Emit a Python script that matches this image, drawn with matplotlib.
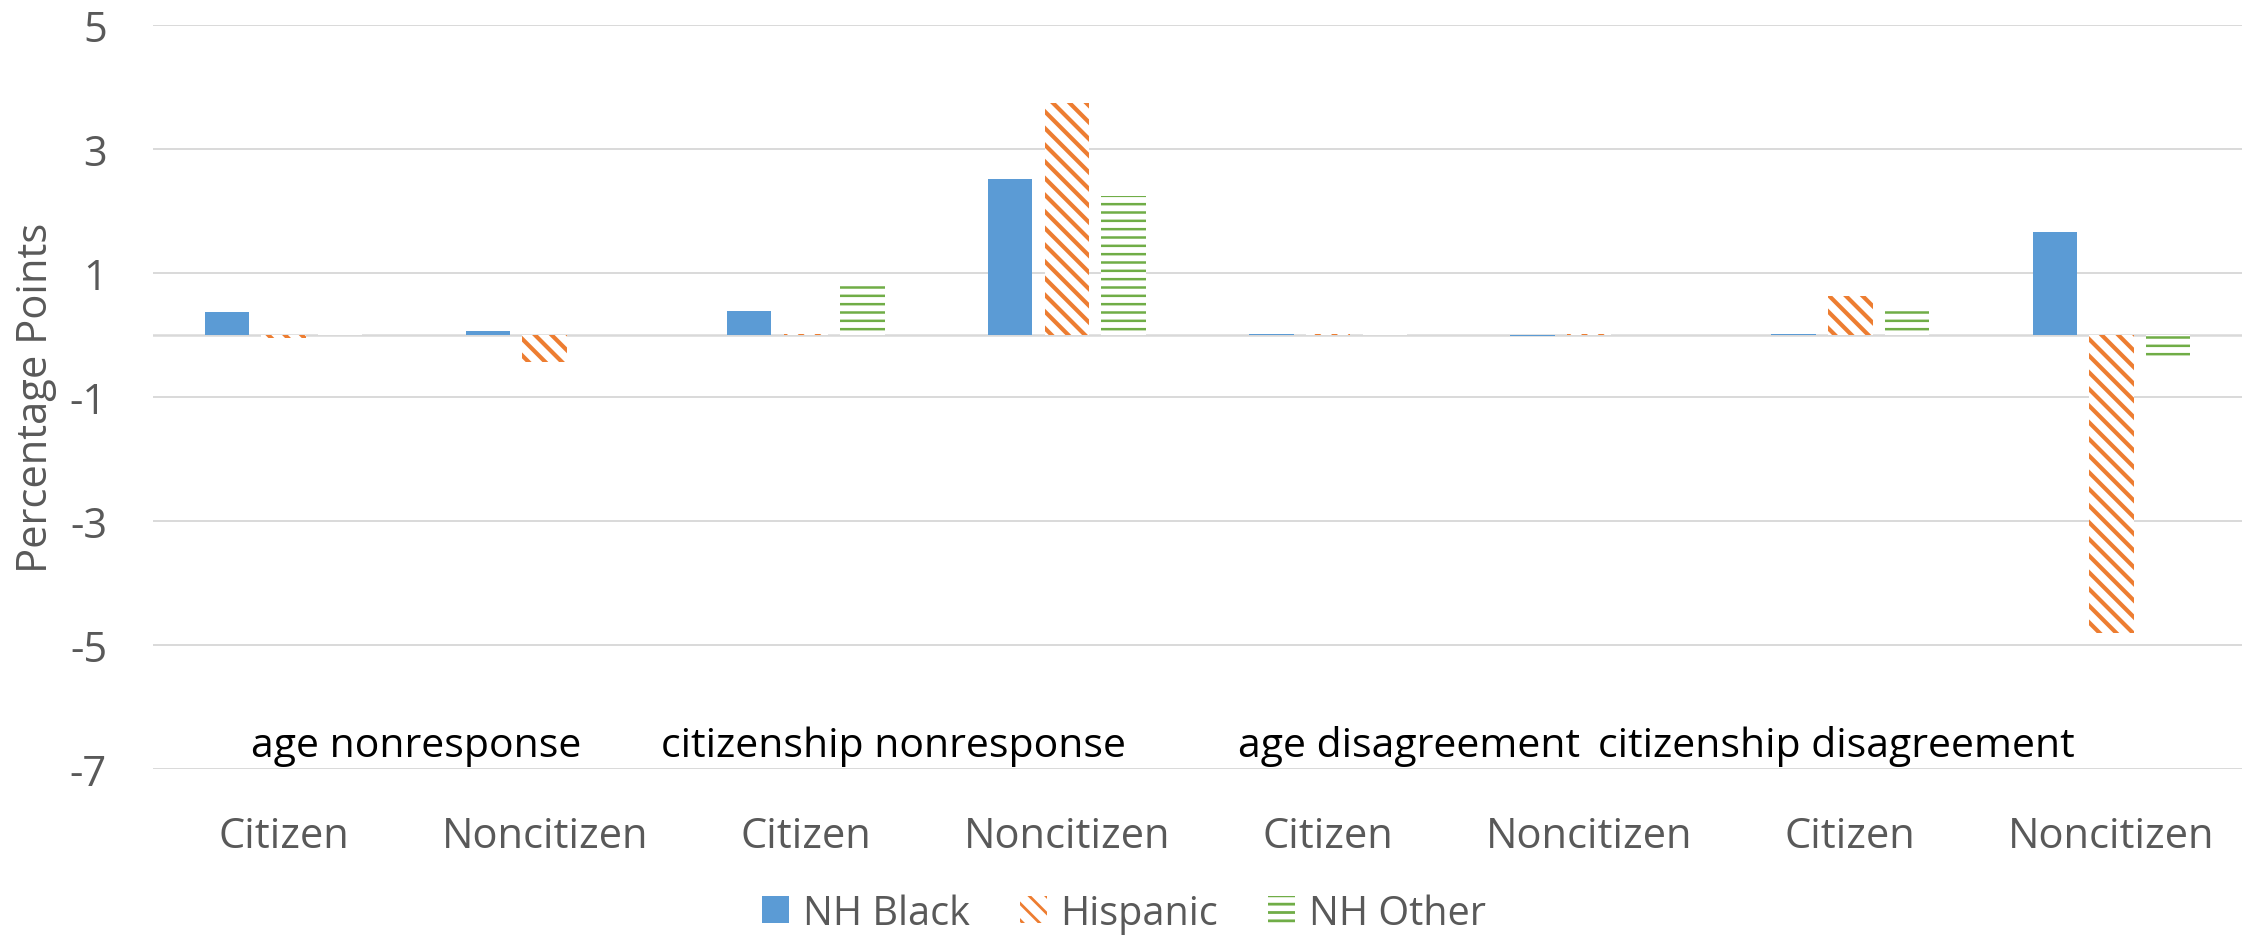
import matplotlib
matplotlib.use("Agg")
import matplotlib.pyplot as plt
import numpy as np

# ---- data ----
categories = ["Citizen", "Noncitizen", "Citizen", "Noncitizen",
              "Citizen", "Noncitizen", "Citizen", "Noncitizen"]
group_labels = ["age nonresponse", "citizenship nonresponse",
                "age disagreement", "citizenship disagreement"]
series_names = ["NH Black", "Hispanic", "NH Other"]
nh_black = [0.37, 0.07, 0.39, 2.51, 0.01, -0.02, 0.02, 1.66]
hispanic = [-0.05, -0.44, 0.02, 3.74, 0.01, 0.01, 0.63, -4.81]
nh_other = [0.05, 0.0, 0.83, 2.24, 0.04, 0.0, 0.46, -0.36]
y_ticks = [5, 3, 1, -1, -3, -5, -7]

# ---- style ----
BLUE = "#5B9BD5"
ORANGE = "#ED7D31"
GREEN = "#70AD47"
TXT = "#595959"
GRID = "#D9D9D9"
FONT = ["Open Sans", "DejaVu Sans"]
plt.rcParams["font.family"] = FONT
plt.rcParams["hatch.linewidth"] = 2.0

fig = plt.figure(figsize=(22.49, 9.37), dpi=100)
ax = fig.add_axes([0.068, 0.178, 0.9289, 0.7945])

x = np.arange(len(categories))
w = 0.17
off = 0.217

def mkbar(xpos, vals, label, face, edge, hatch, hlw):
    bars = ax.bar(xpos, vals, w, label=label, facecolor=face,
                  edgecolor=edge, hatch=hatch, linewidth=0, zorder=3)
    for b in bars:
        try:
            b.set_hatch_linewidth(hlw)
        except Exception:
            pass
    return bars

b1 = ax.bar(x - off, nh_black, w, color=BLUE, label=series_names[0],
            linewidth=0, zorder=3)
b2 = mkbar(x, hispanic, series_names[1], "white", ORANGE, "\\\\", 3.0)
b3 = mkbar(x + off, nh_other, series_names[2], "white", GREEN, "--", 1.8)

ax.set_ylim(-7, 5)
ax.set_xlim(-0.5, len(categories) - 0.5)
ax.set_yticks(y_ticks)
ax.set_yticklabels([str(t) for t in y_ticks])
ax.yaxis.grid(True, color=GRID, linewidth=1.4, zorder=0)
ax.axhline(0, color=GRID, linewidth=1.8, zorder=1)
for s in ax.spines.values():
    s.set_visible(False)
ax.tick_params(axis="both", length=0, labelsize=30, colors=TXT)
ax.tick_params(axis="y", pad=33)
ax.tick_params(axis="x", pad=33)
ax.set_xticks(x)
ax.set_xticklabels(categories)

ax.set_ylabel("Percentage Points", fontsize=30, color=TXT)
ax.yaxis.set_label_coords(-0.046, 0.5)

# group labels (placed as in the reference)
group_x = [0.51, 2.335, 4.31, 5.945]
for gx, gl in zip(group_x, group_labels):
    ax.text(gx, -6.62, gl, ha="center", va="center", fontsize=29.5,
            color="black")

leg = fig.legend(handles=[b1, b2, b3], labels=series_names, loc="center",
                 bbox_to_anchor=(0.4998, 0.024), ncol=3, frameon=False,
                 fontsize=28.5, handlelength=0.68, handleheight=0.68,
                 handletextpad=0.35, columnspacing=1.26, labelcolor=TXT)

fig.savefig("out.png", dpi=100)
